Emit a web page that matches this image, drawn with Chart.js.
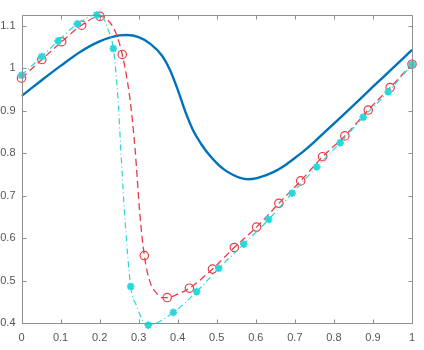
<!DOCTYPE html>
<html>
<head>
<meta charset="utf-8">
<script src="https://cdn.jsdelivr.net/npm/chart.js@4"></script>
<style>
html,body{margin:0;padding:0;background:#fff;}
#wrap{width:424px;height:350px;}
</style>
</head>
<body>
<div id="wrap"><canvas id="c" width="424" height="350"></canvas></div>
<script>
// ---- data ----
const xTicks = [0,0.1,0.2,0.3,0.4,0.5,0.6,0.7,0.8,0.9,1];
const xTickLabels = ['0','0.1','0.2','0.3','0.4','0.5','0.6','0.7','0.8','0.9','1'];
const yTicks = [0.4,0.5,0.6,0.7,0.8,0.9,1.0,1.1];
const yTickLabels = ['0.4','0.5','0.6','0.7','0.8','0.9','1','1.1'];

// solid blue curve
const blueX = [0,0.05,0.1,0.15,0.2,0.25,0.27,0.3,0.33,0.36,0.38,0.40,0.42,0.44,0.46,0.48,0.50,0.52,0.54,0.56,0.58,0.60,0.625,0.65,0.675,0.70,0.725,0.75,0.8,0.85,0.9,0.95,1.0];
const blueY = [0.935,0.971,1.006,1.039,1.064,1.078,1.079,1.074,1.058,1.030,0.997,0.950,0.897,0.853,0.822,0.797,0.777,0.761,0.750,0.742,0.739,0.741,0.748,0.758,0.772,0.789,0.807,0.827,0.870,0.913,0.957,1.000,1.044];

// red dashed curve: circle markers and extra curve points between them
const redMarkX = [0,0.052,0.103,0.154,0.201,0.258,0.3145,0.373,0.430,0.489,0.545,0.602,0.659,0.715,0.771,0.828,0.888,0.944,1.0];
const redMarkY = [0.977,1.021,1.063,1.102,1.123,1.033,0.559,0.460,0.482,0.527,0.578,0.626,0.682,0.735,0.792,0.841,0.902,0.955,1.010];
const redExtraX = [0.22,0.24,0.278,0.291,0.303,0.329,0.346,0.36,0.40];
const redExtraY = [1.115,1.087,0.926,0.808,0.658,0.497,0.470,0.460,0.468];

// cyan dash-dot curve: asterisk markers and extra curve points
const cyanMarkX = [0,0.052,0.094,0.143,0.1926,0.235,0.2796,0.3247,0.389,0.4486,0.505,0.569,0.633,0.693,0.756,0.816,0.875,0.939,1.0];
const cyanMarkY = [0.984,1.028,1.065,1.105,1.126,1.047,0.486,0.395,0.425,0.474,0.529,0.586,0.644,0.706,0.768,0.825,0.885,0.945,1.010];
const cyanExtraX = [0.205,0.22,0.247,0.256,0.265,0.295,0.312];
const cyanExtraY = [1.125,1.095,0.930,0.780,0.645,0.440,0.403];

// ---- build datasets ----
function pts(xs, ys){ return xs.map((x,i)=>({x:x,y:ys[i]})); }
function merged(xa, ya, xb, yb){ return pts(xa,ya).concat(pts(xb,yb)).sort((a,b)=>a.x-b.x); }

const BLUE = '#0072BD';
const RED = 'rgb(232,60,70)';
const CYAN = 'rgb(40,215,220)';
const AXIS = '#8f8f8f';

const boxPlugin = {
  id:'boxTicks',
  afterDatasetsDraw(chart){
    const ctx = chart.ctx, a = chart.chartArea;
    const xs = chart.scales.x, ys = chart.scales.y;
    ctx.save();
    ctx.strokeStyle = AXIS; ctx.lineWidth = 1;
    ctx.beginPath();
    const L = Math.round(a.left)+0.5, R = Math.round(a.right)+0.5, T = Math.round(a.top)+0.5, B = Math.round(a.bottom)+0.5;
    ctx.rect(L, T, R-L, B-T);
    const len = 4;
    xTicks.forEach(v=>{
      const p = Math.round(xs.getPixelForValue(v))+0.5;
      ctx.moveTo(p,B); ctx.lineTo(p,B-len);
      ctx.moveTo(p,T); ctx.lineTo(p,T+len);
    });
    yTicks.forEach(v=>{
      const p = Math.round(ys.getPixelForValue(v))+0.5;
      ctx.moveTo(L,p); ctx.lineTo(L+len,p);
      ctx.moveTo(R,p); ctx.lineTo(R-len,p);
    });
    ctx.stroke();
    ctx.restore();
  }
};

new Chart(document.getElementById('c'), {
  type:'scatter',
  data:{
    datasets:[
      {data:pts(blueX,blueY), showLine:true, borderColor:BLUE, borderWidth:2.4, pointRadius:0, cubicInterpolationMode:'monotone', order:3},
      {data:merged(redMarkX,redMarkY,redExtraX,redExtraY), showLine:true, borderColor:RED, borderWidth:1.3, borderDash:[7,4], pointRadius:0, cubicInterpolationMode:'monotone', clip:false, order:2},
      {data:pts(redMarkX,redMarkY), showLine:false, pointStyle:'circle', pointRadius:4.2, borderColor:RED, borderWidth:1.2, backgroundColor:'rgba(0,0,0,0)', clip:false, order:2},
      {data:merged(cyanMarkX,cyanMarkY,cyanExtraX,cyanExtraY), showLine:true, borderColor:CYAN, borderWidth:1.2, borderDash:[6,3,1,3], pointRadius:0, cubicInterpolationMode:'monotone', clip:false, order:1},
      {data:pts(cyanMarkX,cyanMarkY), showLine:false, pointStyle:'star', pointRadius:3.8, borderColor:CYAN, borderWidth:2, backgroundColor:CYAN, clip:false, order:1}
    ]
  },
  options:{
    responsive:false, animation:false,
    devicePixelRatio:1,
    layout:{padding:{left:0,right:12,top:15,bottom:0}},
    plugins:{legend:{display:false}, tooltip:{enabled:false}},
    scales:{
      x:{
        type:'linear', min:0, max:1,
        afterBuildTicks:(s)=>{ s.ticks = xTicks.map(v=>({value:v})); },
        afterFit:(s)=>{ s.height = 27; },
        grid:{display:false, drawTicks:false},
        border:{display:false},
        ticks:{padding:8, color:'#555', font:{family:'"Liberation Sans", Arial, sans-serif', size:11},
          callback:(v)=>{ const i = xTicks.findIndex(t=>Math.abs(t-v)<1e-9); return i>=0 ? xTickLabels[i] : ''; }, maxRotation:0, autoSkip:false}
      },
      y:{
        type:'linear', min:0.4, max:1.126,
        afterBuildTicks:(s)=>{ s.ticks = yTicks.map(v=>({value:v})); },
        afterFit:(s)=>{ s.width = 21.5; },
        grid:{display:false, drawTicks:false},
        border:{display:false},
        ticks:{padding:6, color:'#555', font:{family:'"Liberation Sans", Arial, sans-serif', size:11},
          callback:(v)=>{ const i = yTicks.findIndex(t=>Math.abs(t-v)<1e-9); return i>=0 ? yTickLabels[i] : ''; }, autoSkip:false}
      }
    }
  },
  plugins:[boxPlugin]
});
</script>
</body>
</html>
